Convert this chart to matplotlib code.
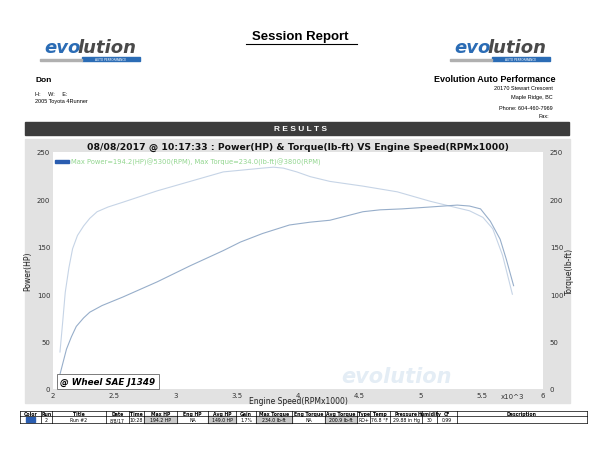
import matplotlib
matplotlib.use("Agg")
import matplotlib.pyplot as plt
from matplotlib.patches import Rectangle

# power curve (HP)
rpm_hp = [2.04, 2.08, 2.11, 2.15, 2.19, 2.25, 2.30, 2.40, 2.57, 2.85, 3.12, 3.39,
          3.53, 3.71, 3.93, 4.10, 4.26, 4.53, 4.67, 4.85, 5.08, 5.30, 5.40, 5.49,
          5.57, 5.65, 5.70, 5.76]
power = [7, 27, 42, 55, 66, 75, 81, 88, 97, 113, 130, 146,
         155, 164, 173, 176, 178, 187, 189, 190, 192, 194, 193, 190,
         177, 158, 137, 109]

# torque curve (lb-ft)
rpm_tq = [2.057, 2.08, 2.10, 2.13, 2.16, 2.20, 2.25, 2.30, 2.36, 2.45, 2.57, 2.85,
          3.12, 3.39, 3.55, 3.71, 3.80, 3.88, 3.99, 4.10, 4.26, 4.53, 4.81, 5.08,
          5.27, 5.40, 5.51, 5.59, 5.67, 5.75]
torque = [39, 72, 102, 128, 148, 162, 172, 180, 187, 192, 197, 209,
          219, 229, 231, 233, 234, 233, 229, 224, 219, 214, 208, 198,
          192, 188, 181, 169, 141, 100]

x_ticks = [2, 2.5, 3, 3.5, 4, 4.5, 5, 5.5, 6]
y_ticks = [0, 50, 100, 150, 200, 250]

# results table
col_names = ["Color", "Run", "Title", "Date", "Time", "Max HP", "Eng HP", "Avg HP",
             "Gain", "Max Torque", "Eng Torque", "Avg Torque", "Type", "Temp",
             "Pressure", "Humidity", "CF", "Description"]
row_vals = ["", "2", "Run #2", "8/8/17", "10:28", "194.2 HP", "NA", "149.0 HP",
            "1.7%", "234.0 lb-ft", "NA", "200.9 lb-ft", "RO+", "76.8 \u00b0F",
            "29.88 in Hg", "30", "0.99", ""]
shaded = ["Max HP", "Avg HP", "Max Torque", "Avg Torque"]
col_edges = [20, 41, 52, 106, 129, 144, 177, 208, 236, 256, 292, 325, 357, 370,
             390, 422, 437, 457, 587]

W, H = 600, 464


def fx(x):
    return x / W


def fy(y):
    return 1 - y / H


fig = plt.figure(figsize=(6, 4.64), dpi=100)
fig.patch.set_facecolor("white")

# ---- page header ----
fig.text(fx(300), fy(37), "Session Report", ha="center", va="center",
         fontsize=9.5, fontweight="bold", family="Liberation Sans")
fig.add_artist(plt.Line2D([fx(246), fx(357)], [fy(45), fy(45)], color="black", lw=0.8))


def logo(x0, y0):
    fig.text(fx(x0), fy(y0), "evo", ha="left", va="center", fontsize=13,
             fontweight="bold", style="italic", color="#2b6cb5", family="DejaVu Sans")
    fig.text(fx(x0 + 33), fy(y0), "lution", ha="left", va="center", fontsize=13,
             fontweight="bold", style="italic", color="#4a4a4a", family="DejaVu Sans")
    fig.add_artist(Rectangle((fx(x0 + 38), fy(y0 + 14)), fx(58), 4 / H,
                             color="#2b6cb5", transform=fig.transFigure))
    fig.add_artist(Rectangle((fx(x0 - 4), fy(y0 + 14)), fx(42), 2 / H,
                             color="#b0b0b0", transform=fig.transFigure))
    fig.text(fx(x0 + 67), fy(y0 + 12), "AUTO PERFORMANCE", ha="center", va="center",
             fontsize=2.2, color="white")


logo(44, 48)
logo(454, 48)

fig.text(fx(35), fy(80), "Don", fontsize=6, fontweight="bold", va="center",
         family="Liberation Sans")
fig.text(fx(35), fy(95), "H:     W:     E:", fontsize=4, va="center", family="Liberation Sans")
fig.text(fx(35), fy(102), "2005 Toyota 4Runner", fontsize=4, va="center",
         family="Liberation Sans")

fig.text(fx(556), fy(80), "Evolution Auto Performance", fontsize=6.5, fontweight="bold",
         ha="right", va="center", family="Liberation Sans")
fig.text(fx(553), fy(89), "20170 Stewart Crescent", fontsize=4, ha="right", va="center",
         family="Liberation Sans")
fig.text(fx(553), fy(97), "Maple Ridge, BC", fontsize=4, ha="right", va="center",
         family="Liberation Sans")
fig.text(fx(553), fy(109), "Phone: 604-460-7969", fontsize=4, ha="right", va="center",
         family="Liberation Sans")
fig.text(fx(549), fy(117), "Fax:", fontsize=4, ha="right", va="center",
         family="Liberation Sans")

# results bar
fig.add_artist(Rectangle((fx(25), fy(136)), fx(544), 13 / H, color="#3c3c3c",
                         transform=fig.transFigure))
fig.text(fx(300), fy(129.5), "R E S U L T S", ha="center", va="center", fontsize=6,
         fontweight="bold", color="white", family="Liberation Sans")

# gray chart panel
fig.add_artist(Rectangle((fx(25), fy(404)), fx(545), 264 / H, color="#e2e2e2",
                         transform=fig.transFigure, zorder=0))

# ---- chart ----
ax = fig.add_axes([fx(53), fy(390), fx(490), (390 - 153) / H])
ax.set_facecolor("white")
ax.plot(rpm_tq, torque, color="#c6d4e6", lw=0.8)
ax.plot(rpm_hp, power, color="#97aeca", lw=0.8)
ax.set_xlim(2, 6)
ax.set_ylim(0, 250)
ax.set_xticks(x_ticks)
ax.set_xticklabels([f"{t:g}" for t in x_ticks])
ax.set_yticks(y_ticks)
ax.tick_params(labelsize=5, length=0, pad=2, colors="#333333")
for s in ax.spines.values():
    s.set_visible(False)
ax.set_ylabel("Power(HP)", fontsize=5.5, labelpad=3, color="#222222")
ax.set_xlabel("Engine Speed(RPMx1000)", fontsize=5.5, labelpad=-1, color="#222222")
ax.text(5.75, -4, "x10^3", fontsize=5, ha="center", va="top", color="#333333")

ax2 = ax.twinx()
ax2.set_ylim(0, 250)
ax2.set_yticks(y_ticks)
ax2.tick_params(labelsize=5, length=0, pad=5, colors="#333333")
for s in ax2.spines.values():
    s.set_visible(False)
ax2.set_ylabel("Torque(lb-ft)", fontsize=5.5, labelpad=1, color="#222222")

fig.text(fx(298), fy(147), "08/08/2017 @ 10:17:33 : Power(HP) & Torque(lb-ft) VS Engine Speed(RPMx1000)",
         ha="center", va="center", fontsize=6.7, fontweight="bold", color="#111111")

# legend line
ax.add_patch(Rectangle((2.02, 238.5), 0.11, 3.5, color="#2a5db0", clip_on=False))
ax.text(2.15, 240, "Max Power=194.2(HP)@5300(RPM), Max Torque=234.0(lb-ft)@3800(RPM)",
        fontsize=4.9, color="#92d68f", va="center")

# watermark
ax.text(4.8, 14, "evolution", fontsize=15, fontweight="bold", style="italic",
        color="#e4edf5", ha="center", va="center", zorder=0)

# SAE box
ax.text(2.06, 8, "@ Wheel SAE J1349", fontsize=6.3, fontweight="bold", style="italic",
        va="center", ha="left",
        bbox=dict(boxstyle="square,pad=0.35", fc="white", ec="#666666", lw=0.6))

# ---- table ----
top, mid, bot = 412, 417, 424
for i, (name, val) in enumerate(zip(col_names, row_vals)):
    x0, x1 = col_edges[i], col_edges[i + 1]
    if name in shaded:
        fig.add_artist(Rectangle((fx(x0), fy(bot)), fx(x1 - x0), (bot - mid) / H,
                                 color="#c8c8c8", transform=fig.transFigure))
    fig.text(fx((x0 + x1) / 2), fy((top + mid) / 2), name, fontsize=3.3,
             fontweight="bold", ha="center", va="center")
    fig.text(fx((x0 + x1) / 2), fy((mid + bot) / 2 + 0.3), val, fontsize=3.3,
             ha="center", va="center")
fig.add_artist(Rectangle((fx(26), fy(423)), fx(9), 5 / H, color="#2a5db0",
                         transform=fig.transFigure))
for y in (top, mid, bot):
    fig.add_artist(plt.Line2D([fx(col_edges[0]), fx(col_edges[-1])], [fy(y), fy(y)],
                              color="black", lw=0.5))
for x in col_edges:
    fig.add_artist(plt.Line2D([fx(x), fx(x)], [fy(top), fy(bot)], color="black", lw=0.5))

fig.savefig("out.png", dpi=100)
